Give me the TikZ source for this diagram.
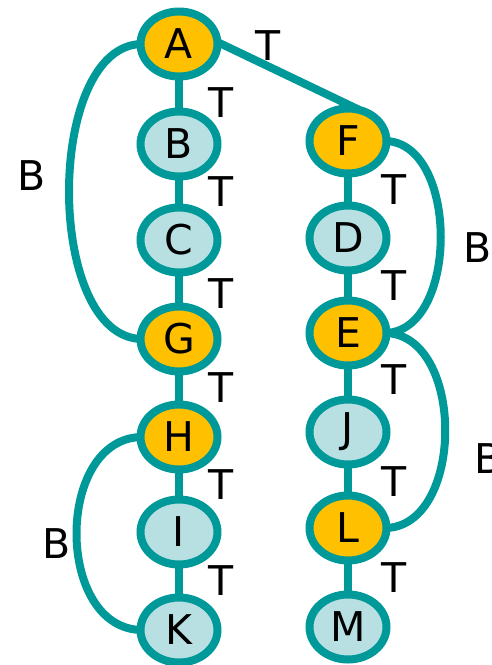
\documentclass[tikz,border=0pt]{standalone}
\usepackage{fontspec}
\setmainfont{DejaVu Sans}
\usetikzlibrary{shapes.geometric, backgrounds}

\definecolor{teal}{RGB}{0,153,153}
\definecolor{cutorange}{RGB}{255,192,0}
\definecolor{paleblue}{RGB}{184,223,226}

\tikzset{
  vtx/.style={ellipse, draw=teal, line width=4pt, fill=paleblue, inner sep=0pt,
              minimum width=38.5pt, minimum height=32.5pt},
  cut/.style={vtx, fill=cutorange},
  edge/.style={draw=teal, line width=4pt, shorten <=-3pt, shorten >=-3pt},
  tlab/.style={midway, xshift=21pt},
  rlab/.style={midway, xshift=23pt}
}

\begin{document}
\begin{tikzpicture}[x=0.5pt, y=-0.5pt, every node/.style={font=\fontsize{20.5}{24}\selectfont}]
        \useasboundingbox (0,0) rectangle (492,665);
        % left column
        \node[cut] (A) at (179,44) {A};
        \node[vtx] (B) at (179,144) {B};
        \node[vtx] (C) at (179,240) {C};
        \node[cut] (G) at (179,339) {G};
        \node[cut] (H) at (179,437) {H};
        \node[vtx] (I) at (179,532) {I};
        \node[vtx] (K) at (179,630) {K};
        % right column
        \node[cut] (F) at (348,141) {F};
        \node[vtx] (D) at (348,238) {D};
        \node[cut] (E) at (348,333) {E};
        \node[vtx] (J) at (348,432) {J};
        \node[cut] (L) at (348,528) {L};
        \node[vtx] (M) at (348,627) {M};
        \begin{scope}[on background layer]
        % tree edges
        \draw[edge] (A) -- (B) node[tlab, yshift=-4.5pt] (tAB) {T};
        \draw[edge] (B) -- (C) node[tlab] (tBC) {T};
        \draw[edge] (C) -- (G) node[tlab, yshift=-2pt] (tCG) {T};
        \draw[edge] (G) -- (H) node[tlab] (tGH) {T};
        \draw[edge] (H) -- (I) node[tlab] (tHI) {T};
        \draw[edge] (I) -- (K) node[tlab] (tIK) {T};
        \draw[edge, shorten >=-6pt] (A.east) -- (F.north) node[midway, xshift=-8.5pt, yshift=14.5pt] (tAF) {T};
        \draw[edge] (F) -- (D) node[rlab] (tFD) {T};
        \draw[edge] (D) -- (E) node[rlab] (tDE) {T};
        \draw[edge] (E) -- (J) node[rlab, yshift=1.5pt] (tEJ) {T};
        \draw[edge] (J) -- (L) node[rlab, yshift=-1pt] (tJL) {T};
        \draw[edge] (L) -- (M) node[rlab] (tLM) {T};
        % back edges
        \draw[edge] (A.west) .. controls +(-92,0) and +(-92,0) .. (G.west)
              node[midway, xshift=-18pt, yshift=8pt] (bAG) {B};
        \draw[edge] (F.east) .. controls +(69,0) and +(69,0) .. (E.east)
              node[midway, xshift=17.5pt, yshift=-5.5pt] (bFE) {B};
        \draw[edge] (E.east) .. controls +(75,0) and +(75,0) .. (L.east)
              node[midway, xshift=21pt, yshift=-14pt] (bEL) {B};
        \draw[edge] (H.west) .. controls +(-82,0) and +(-82,0) .. (K.west)
              node[midway, xshift=-9pt, yshift=-5pt] (bHK) {B};
        \end{scope}
\end{tikzpicture}
\end{document}
